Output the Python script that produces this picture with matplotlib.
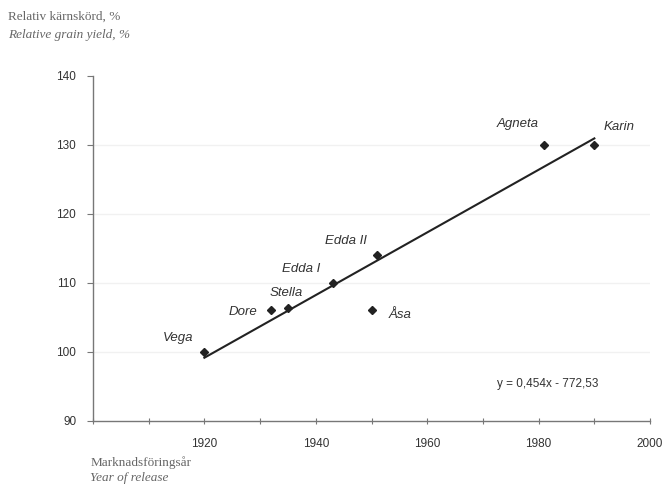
import numpy as np
import matplotlib.pyplot as plt

# varieties, year of release, relative grain yield (%)
sorter = ['Vega', 'Dore', 'Stella', 'Edda I', 'Edda II', 'Åsa', 'Agneta', 'Karin']
ar = [1920, 1932, 1935, 1943, 1951, 1950, 1981, 1990]
skord = [100, 106, 106.3, 110, 114, 106, 130, 130]

# trend line as printed on the chart
k = 0.454
m = -772.53

# label offsets (points) and alignment
offs = [(-8, 10, 'right'), (-10, -1, 'right'), (-1, 11, 'center'), (-9, 10, 'right'),
        (-7, 10, 'right'), (12, -3, 'left'), (-4, 15, 'right'), (7, 13, 'left')]

fig = plt.figure(figsize=(6.64, 4.86), dpi=100)
ax = fig.add_axes([0.140, 0.134, 0.839, 0.710])

ax.set_xlim(1900, 2000)
ax.set_ylim(90, 140)

for y in [100, 110, 120, 130]:
    ax.axhline(y, color='#f1f1f1', lw=1, zorder=0)

xl = np.array([min(ar), max(ar)])
ax.plot(xl, k * xl + m, color='#222222', lw=1.5, zorder=2)
ax.plot(ar, skord, 'D', color='#222222', ms=4.5, zorder=3)

for s, x, y, (dx, dy, ha) in zip(sorter, ar, skord, offs):
    ax.annotate(s, (x, y), xytext=(dx, dy), textcoords='offset points', ha=ha, va='center',
                fontsize=9.5, style='italic', color='#333333', family='Liberation Sans')

ax.text(1981.7, 95.4, 'y = 0,454x - 772,53', ha='center', va='center', fontsize=8.5,
        color='#333333', family='Liberation Sans')

ax.set_xticks(range(1900, 2001, 10))
ax.set_xticklabels(['' if t % 20 or t == 1900 else str(t) for t in range(1900, 2001, 10)])
ax.set_yticks(range(90, 141, 10))

for sp in ['top', 'right']:
    ax.spines[sp].set_visible(False)
for sp in ['left', 'bottom']:
    ax.spines[sp].set_color('#777777')
    ax.spines[sp].set_linewidth(1)

ax.tick_params(axis='x', direction='inout', length=5, color='#777777', labelsize=8.5,
               labelcolor='#333333', pad=10)
ax.tick_params(axis='y', direction='out', length=4, color='#777777', labelsize=8.5,
               labelcolor='#333333', pad=8)
for lab in ax.get_xticklabels() + ax.get_yticklabels():
    lab.set_family('Liberation Sans')

fig.text(0.012, 0.965, 'Relativ kärnskörd, %', fontsize=9.5, color='#666666',
         family='Liberation Serif', va='center')
fig.text(0.012, 0.928, 'Relative grain yield, %', fontsize=9.5, color='#666666',
         family='Liberation Serif', style='italic', va='center')
fig.text(0.136, 0.049, 'Marknadsföringsår', fontsize=9.5, color='#666666',
         family='Liberation Serif', va='center')
fig.text(0.136, 0.016, 'Year of release', fontsize=9.5, color='#666666',
         family='Liberation Serif', style='italic', va='center')

fig.savefig('out.png', dpi=100)
